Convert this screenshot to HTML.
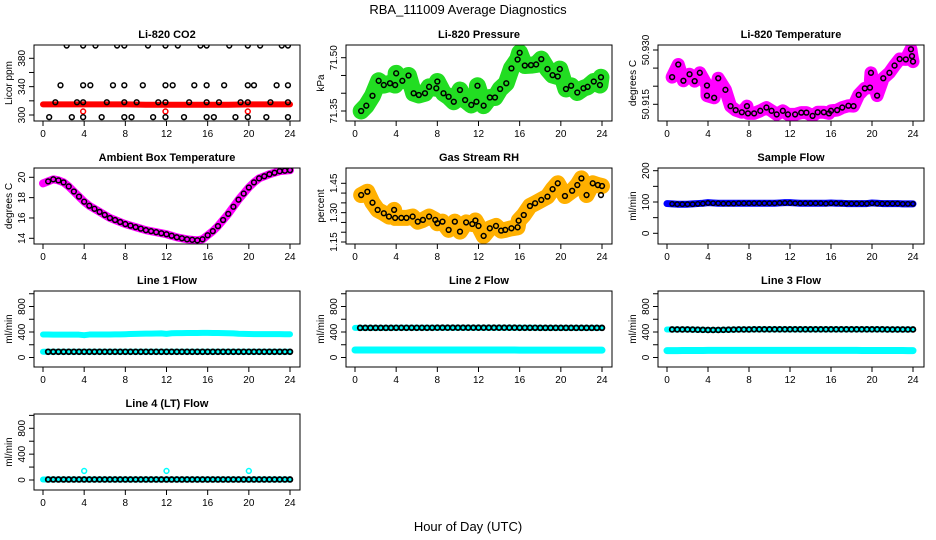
<!DOCTYPE html>
<html><head><meta charset="utf-8"><style>
body{margin:0;background:#fff}
svg{display:block;font-family:"Liberation Sans",sans-serif}
</style></head><body>
<svg id="c" width="936" height="540" viewBox="0 0 936 540">
<text x="468" y="14" text-anchor="middle" font-size="13">RBA_111009  Average Diagnostics</text>
<text x="468" y="531" text-anchor="middle" font-size="13">Hour of Day (UTC)</text>
</svg>
<script>
// ---- data ----
const halfHours = [0,0.5,1,1.5,2,2.5,3,3.5,4,4.5,5,5.5,6,6.5,7,7.5,8,8.5,9,9.5,10,10.5,11,11.5,12,12.5,13,13.5,14,14.5,15,15.5,16,16.5,17,17.5,18,18.5,19,19.5,20,20.5,21,21.5,22,22.5,23,23.5,24];
const xTicks = [0,4,8,12,16,20,24];

const co2Hours = [2.3,3.9,5.1,7.2,7.9,10.2,11.9,13.1,15.3,15.9,18.1,19.9,21.1,23.2,23.8, 1.7,3.9,4.6,6.8,7.9,9.7,11.9,12.6,14.7,15.9,17.6,19.9,20.5,22.7,23.8, 1.2,3.3,3.9,6.2,7.9,9.1,11.2,11.9,14.2,15.9,17.1,19.2,19.9,22.1,23.8, 0.6,2.8,3.9,5.7,7.9,8.6,10.7,11.9,13.7,15.9,16.6,18.7,19.9,21.7,23.8];
const co2Values = [398,398,398,398,398,398,398,398,398,398,398,398,398,398,398, 342,342,342,342,342,342,342,342,342,342,342,342,342,342,342, 318,318,318,318,318,318,318,318,318,318,318,318,318,318,318, 297,297,297,297,297,297,297,297,297,297,297,297,297,297,297];
const co2RedHours = [0,2,4,6,8,10,12,14,16,18,20,22,24];
const co2RedValues = [315,315,315,315,315,314.5,314.5,314.5,314.5,314.5,315,315,315];
const co2OutHours = [3.9,11.9,19.9];
const co2OutValues = [305,305,305];

const presHours = [0.6,1.1,1.7,2.3,2.8,3.4,3.9,4.0,4.6,5.2,5.7,6.2,6.8,7.2,7.9,8.0,8.6,9.1,9.6,10.2,10.7,11.3,11.8,11.9,12.5,13.1,13.6,14.1,14.7,15.2,15.8,16.0,16.5,17.1,17.6,18.1,18.7,19.2,19.7,19.9,20.5,21.0,21.6,22.2,22.6,23.2,23.8,23.9];
const presValues = [71.35,71.365,71.393,71.435,71.423,71.428,71.423,71.456,71.435,71.45,71.40,71.395,71.40,71.418,71.414,71.433,71.40,71.39,71.376,71.409,71.381,71.367,71.376,71.421,71.365,71.388,71.388,71.412,71.428,71.47,71.495,71.514,71.478,71.479,71.481,71.496,71.468,71.451,71.447,71.468,71.412,71.421,71.402,71.414,71.418,71.433,71.423,71.445];

const tempHours = [0.5,1.1,1.6,2.2,2.7,3.2,3.9,3.9,4.6,5.0,5.7,6.2,6.7,7.3,7.8,7.9,8.5,9.1,9.7,10.2,10.7,11.3,11.8,12.5,13.1,13.6,14.2,14.7,15.3,15.8,16.0,16.6,17.1,17.7,18.2,18.7,19.3,19.8,19.9,20.5,21.1,21.7,22.2,22.7,23.3,23.8,23.9,24.0];
const tempValues = [50.9225,50.926,50.9215,50.9233,50.9214,50.9237,50.9202,50.9174,50.9168,50.9222,50.919,50.9145,50.9134,50.9128,50.9145,50.9125,50.9125,50.9132,50.9141,50.9132,50.9122,50.9132,50.9122,50.9122,50.9127,50.9127,50.9118,50.9128,50.9128,50.9125,50.9132,50.9134,50.9141,50.9146,50.9145,50.9176,50.9194,50.9196,50.9237,50.9174,50.9222,50.9237,50.9257,50.9275,50.9274,50.9302,50.9283,50.9268];

const ambValues = [19.4,19.6,19.8,19.7,19.5,19.1,18.6,18.1,17.6,17.2,16.9,16.6,16.3,16.0,15.8,15.6,15.4,15.25,15.1,14.95,14.8,14.7,14.6,14.5,14.4,14.25,14.1,14.0,13.9,13.85,13.8,13.9,14.3,14.7,15.2,15.8,16.4,17.1,17.8,18.4,19.0,19.5,19.9,20.1,20.3,20.45,20.6,20.65,20.7];

const rhHours = [0.6,1.2,1.7,2.2,2.8,3.3,3.8,3.9,4.5,5.0,5.6,6.1,6.6,7.2,7.8,8.0,8.5,9.1,9.7,10.2,10.8,11.4,11.7,12.0,12.5,13.1,13.7,14.2,14.6,15.2,15.8,15.9,16.4,17.0,17.5,18.1,18.7,19.2,19.7,20.4,21.1,21.6,22.0,22.5,23.1,23.6,24.0,23.9];
const rhValues = [1.39,1.407,1.351,1.314,1.297,1.28,1.314,1.273,1.273,1.273,1.28,1.254,1.263,1.28,1.263,1.246,1.254,1.212,1.254,1.203,1.25,1.242,1.26,1.232,1.181,1.22,1.232,1.208,1.212,1.22,1.225,1.259,1.288,1.334,1.348,1.365,1.382,1.42,1.45,1.385,1.412,1.441,1.475,1.39,1.45,1.441,1.436,1.39];

const sampleFlow = [95,94,93,93,93,93,94,95,97,96,96,95,95,95,96,96,96,96,96,96,96,96,97,97,97,96,96,96,96,96,96,95,96,96,95,95,95,95,95,95,96,95,95,95,95,95,94,94,94];
const sampleBlue = [95,94,93,93,93,94,95,96,98,97,96,96,96,96,96,96,96,96,96,96,96,96,97,98,98,97,96,96,96,96,96,96,97,96,96,95,95,95,95,95,97,96,95,95,95,95,94,94,94];

const line1Black = [90,90,90,90,90,90,90,90,90,90,90,90,90,90,90,90,90,90,90,90,90,90,90,90,90,90,90,90,90,90,90,90,90,90,90,90,90,90,90,90,90,90,90,90,90,90,90,90,90];
const line1Cyan = [360,360,358,358,358,358,358,358,350,360,360,360,360,360,362,362,365,368,370,372,374,375,376,378,370,380,382,382,384,384,385,386,386,385,384,383,380,378,372,370,368,366,366,366,366,366,366,365,365];
const line2Black = [465,465,465,465,465,465,465,465,466,466,466,466,466,466,466,466,467,467,467,467,467,467,467,467,467,467,467,467,467,467,467,467,466,466,466,466,465,465,465,465,465,465,465,465,465,465,465,465,465];
const line2Cyan = [118,118,117,117,117,117,117,117,117,117,117,117,117,117,117,117,117,117,117,117,117,117,117,117,117,117,117,117,117,117,117,117,116,116,116,116,116,116,116,116,116,116,116,116,116,116,116,115,115];
const line3Black = [440,440,440,440,440,438,436,434,432,432,432,434,436,438,440,440,440,442,442,442,442,442,442,442,442,442,442,442,442,442,442,442,442,442,442,442,442,442,442,442,442,442,442,440,440,440,440,440,440];
const line3Cyan = [108,108,108,110,110,110,110,110,112,112,112,112,112,112,112,112,112,112,112,112,112,112,112,112,112,112,112,112,112,112,112,112,112,112,112,112,112,112,110,110,110,110,110,110,110,110,110,108,108];
const line4Black = [8,8,8,8,8,8,8,8,8,8,8,8,8,8,8,8,8,8,8,8,8,8,8,8,8,8,8,8,8,8,8,8,8,8,8,8,8,8,8,8,8,8,8,8,8,8,8,8,8];
const line4Cyan = [8,8,8,8,8,8,8,8,8,8,8,8,8,8,8,8,8,8,8,8,8,8,8,8,8,8,8,8,8,8,8,8,8,8,8,8,8,8,8,8,8,8,8,8,8,8,8,8,8];
const line4OutHours = [4,12,20];
const line4OutValues = [140,140,140];

// ---- layout ----
const svg = document.getElementById('c');
const NS = 'http://www.w3.org/2000/svg';
const colX = [{l:34,r:300,x0:43,x24:290},{l:346,r:612,x0:355,x24:602},{l:658,r:924,x0:667,x24:913}];
const rowT = [45,168,291,414];
function mk(tag, attrs, parent){
  const e = document.createElementNS(NS, tag);
  for (const k in attrs) e.setAttribute(k, attrs[k]);
  (parent||svg).appendChild(e);
  return e;
}
function panel(o){
  const c = colX[o.col], T = rowT[o.row], B = T + 76;
  const g = mk('g', {});
  
  
  const xs = h => c.x0 + (c.x24 - c.x0) * h / 24;
  const ys = v => T + o.ya + (o.yb - o.ya) * (v - o.va) / (o.vb - o.va);
  const clip = mk('clipPath', {id: 'cl' + o.name}, g);
  mk('rect', {x: c.l, y: T, width: c.r - c.l, height: B - T}, clip);
  const plot = mk('g', {'clip-path': 'url(#cl' + o.name + ')'}, g);
  
  
  o.draw(plot, xs, ys);
  const box = mk('rect', {x: c.l, y: T, width: c.r - c.l, height: B - T, fill: 'none', stroke: '#000', 'stroke-width': 1}, g);
  
  
  const t = mk('text', {x: (c.l + c.r) / 2, y: T - 7, 'text-anchor': 'middle', 'font-size': 11, 'font-weight': 'bold'}, g);
  t.textContent = o.title;
  
  
  xTicks.forEach(h => {
    mk('line', {x1: xs(h), x2: xs(h), y1: B, y2: B + 5, stroke: '#000'}, g);
    const tl = mk('text', {x: xs(h), y: B + 16, 'text-anchor': 'middle', 'font-size': 10}, g);
    tl.textContent = h;
    
    
  });
  mk('line', {x1: xs(0), x2: xs(24), y1: B, y2: B, stroke: '#000'}, g);
  o.ticks.forEach(v => { if (ys(v) >= T - 1 && ys(v) <= B + 1) mk('line', {x1: c.l - 5, x2: c.l, y1: ys(v), y2: ys(v), stroke: '#000'}, g); });
  o.labels.forEach(s => {
    const yl = mk('text', {x: 0, y: 0, 'text-anchor': 'middle', 'font-size': 10, transform: 'translate(' + (c.l - 9) + ',' + ys(Number(s)) + ') rotate(-90)'}, g);
    yl.textContent = s;
    
    
  });
  const ylab = mk('text', {x: 0, y: 0, 'text-anchor': 'middle', 'font-size': 10, transform: 'translate(' + (c.l - 22) + ',' + (T + 38) + ') rotate(-90)'}, g);
  ylab.textContent = o.ylabel;
  
  
}
function band(p, xs, ys, hrs, vals, color, w){
  const pts = hrs.map((h, i) => xs(h) + ',' + ys(vals[i])).join(' ');
  const pl = mk('polyline', {points: pts, fill: 'none', stroke: color, 'stroke-width': w, 'stroke-linecap': 'round', 'stroke-linejoin': 'round'}, p);
  
  
}
function pts(p, xs, ys, hrs, vals, color, r, sw){
  hrs.forEach((h, i) => {
    const ci = mk('circle', {cx: xs(h), cy: ys(vals[i]), r: r || 2.4, fill: 'none', stroke: color, 'stroke-width': sw || 1.5}, p);
    
    
  });
}
const flowTicks = [0,200,400,600,800,1000], flowLabels = ['0','400','800'];

panel({name:'co2', col:0, row:0, title:'Li-820 CO2', ylabel:'Licor ppm', va:300, ya:70, vb:380, yb:13.3, ticks:[300,320,340,360,380], labels:['300','340','380'],
  draw:(p,xs,ys)=>{ band(p,xs,ys,co2RedHours,co2RedValues,'#f00',6); pts(p,xs,ys,co2OutHours,co2OutValues,'#f00'); pts(p,xs,ys,co2Hours,co2Values,'#000'); }});
panel({name:'pressure', col:1, row:0, title:'Li-820 Pressure', ylabel:'kPa', va:71.35, ya:66, vb:71.50, yb:12.7, ticks:[71.35,71.40,71.45,71.50], labels:['71.35','71.50'],
  draw:(p,xs,ys)=>{ band(p,xs,ys,presHours,presValues,'#22dd22',17); pts(p,xs,ys,presHours,presValues,'#000'); }});
panel({name:'temperature', col:2, row:0, title:'Li-820 Temperature', ylabel:'degrees C', va:50.915, ya:59.3, vb:50.930, yb:5, ticks:[50.915,50.920,50.925,50.930], labels:['50.915','50.930'],
  draw:(p,xs,ys)=>{ band(p,xs,ys,tempHours,tempValues,'#ff00ff',13); pts(p,xs,ys,tempHours,tempValues,'#000'); }});
panel({name:'ambient', col:0, row:1, title:'Ambient Box Temperature', ylabel:'degrees C', va:14, ya:70.3, vb:20, yb:9.3, ticks:[14,16,18,20], labels:['14','16','18','20'],
  draw:(p,xs,ys)=>{ band(p,xs,ys,halfHours,ambValues,'#ff00ff',8); pts(p,xs,ys,halfHours.slice(1),ambValues.slice(1),'#000'); }});
panel({name:'rh', col:1, row:1, title:'Gas Stream RH', ylabel:'percent', va:1.15, ya:74, vb:1.45, yb:15.3, ticks:[1.15,1.20,1.25,1.30,1.35,1.40,1.45], labels:['1.15','1.30','1.45'],
  draw:(p,xs,ys)=>{ band(p,xs,ys,rhHours.slice(0,47),rhValues.slice(0,47),'#ffb000',16); pts(p,xs,ys,rhHours,rhValues,'#000'); }});
panel({name:'sample-flow', col:2, row:1, title:'Sample Flow', ylabel:'ml/min', va:0, ya:65.3, vb:200, yb:2.7, ticks:[0,50,100,150,200], labels:['0','100','200'],
  draw:(p,xs,ys)=>{ band(p,xs,ys,halfHours,sampleBlue,'#0000ff',7); pts(p,xs,ys,halfHours.slice(1),sampleFlow.slice(1),'#000',2.2,1.4); }});
panel({name:'line1', col:0, row:2, title:'Line 1 Flow', ylabel:'ml/min', va:0, ya:66.5, vb:800, yb:15.5, ticks:flowTicks, labels:flowLabels,
  draw:(p,xs,ys)=>{ band(p,xs,ys,halfHours,line1Cyan,'#00ffff',6); band(p,xs,ys,halfHours,line1Black,'#00ffff',6); pts(p,xs,ys,halfHours.slice(1),line1Black.slice(1),'#000',2.4,1.8); }});
panel({name:'line2', col:1, row:2, title:'Line 2 Flow', ylabel:'ml/min', va:0, ya:66.5, vb:800, yb:15.5, ticks:flowTicks, labels:flowLabels,
  draw:(p,xs,ys)=>{ band(p,xs,ys,halfHours,line2Cyan,'#00ffff',7); band(p,xs,ys,halfHours,line2Black,'#00ffff',6); pts(p,xs,ys,halfHours.slice(1),line2Black.slice(1),'#000',2.4,1.8); }});
panel({name:'line3', col:2, row:2, title:'Line 3 Flow', ylabel:'ml/min', va:0, ya:66.5, vb:800, yb:15.5, ticks:flowTicks, labels:flowLabels,
  draw:(p,xs,ys)=>{ band(p,xs,ys,halfHours,line3Cyan,'#00ffff',7); band(p,xs,ys,halfHours,line3Black,'#00ffff',6); pts(p,xs,ys,halfHours.slice(1),line3Black.slice(1),'#000',2.4,1.8); }});
panel({name:'line4', col:0, row:3, title:'Line 4 (LT) Flow', ylabel:'ml/min', va:0, ya:66, vb:800, yb:14.3, ticks:flowTicks, labels:flowLabels,
  draw:(p,xs,ys)=>{ band(p,xs,ys,halfHours,line4Cyan,'#00ffff',6); pts(p,xs,ys,line4OutHours,line4OutValues,'#00ffff'); pts(p,xs,ys,halfHours.slice(1),line4Black.slice(1),'#000',2.4,1.8); }});
</script>
</body></html>
